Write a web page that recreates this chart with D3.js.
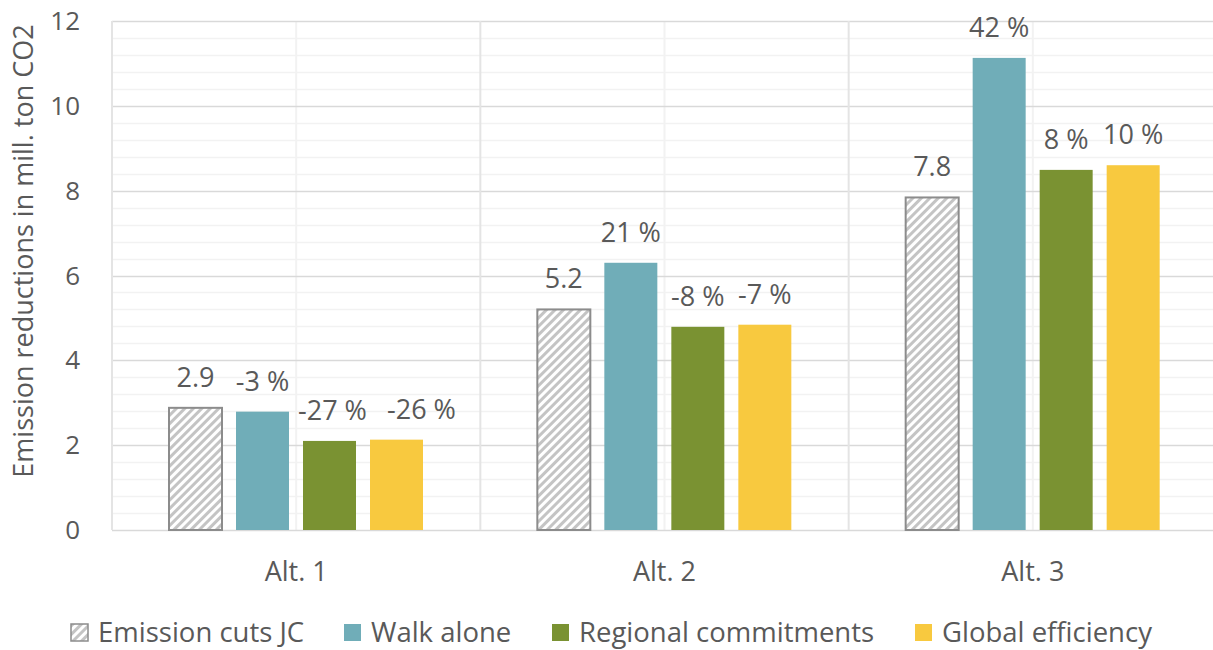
<!DOCTYPE html>
<html>
<head>
<meta charset="utf-8">
<script src="https://cdn.jsdelivr.net/npm/d3@7"></script>
<style>
  body { margin: 0; background: #fff; }
  text { font-family: "Open Sans", Lato, sans-serif; fill: #595959; }
</style>
</head>
<body>
<script>
// chart data
var categories = ["Alt. 1", "Alt. 2", "Alt. 3"];
var seriesNames = ["Emission cuts JC", "Walk alone", "Regional commitments", "Global efficiency"];
var seriesColors = ["url(#hatch)", "#70adb8", "#7a9232", "#f8c93f"];
var emissionCuts = [2.88, 5.2, 7.84];
var walkAlone = [2.79, 6.3, 11.13];
var regional = [2.1, 4.79, 8.49];
var globalEff = [2.13, 4.84, 8.6];
var labelsEmission = ["2.9", "5.2", "7.8"];
var labelsWalk = ["-3 %", "21 %", "42 %"];
var labelsRegional = ["-27 %", "-8 %", "8 %"];
var labelsGlobal = ["-26 %", "-7 %", "10 %"];
var yTicks = [0, 2, 4, 6, 8, 10, 12];

var allValues = [emissionCuts, walkAlone, regional, globalEff];
var allLabels = [labelsEmission, labelsWalk, labelsRegional, labelsGlobal];

var W = 1213, H = 650;
var margin = { top: 21, left: 112 };
var plotW = 1105, plotH = 509;

var svg = d3.select("body").append("svg")
    .attr("width", W)
    .attr("height", H);

var defs = svg.append("defs");
var pat = defs.append("pattern")
    .attr("id", "hatch")
    .attr("patternUnits", "userSpaceOnUse")
    .attr("width", 6)
    .attr("height", 6)
    .attr("patternTransform", "rotate(45)");
pat.append("rect").attr("width", 6).attr("height", 6).attr("fill", "#fff");
pat.append("rect").attr("width", 3).attr("height", 6).attr("fill", "#c4c4c4");

var g = svg.append("g")
    .attr("transform", "translate(" + margin.left + "," + margin.top + ")");

var x = d3.scaleBand().domain(categories).range([0, plotW]).padding(0);
var xs = d3.scaleBand().domain(d3.range(4))
    .range([57, 311]).paddingInner(0.209).paddingOuter(0);
var y = d3.scaleLinear().domain([0, 12]).range([plotH, 0]);

// minor horizontal gridlines
g.selectAll(".minor-h")
    .data(d3.range(0, 12.01, 0.4).filter(v => Math.abs(v / 2 - Math.round(v / 2)) > 0.01))
    .enter().append("line")
    .attr("x1", 0).attr("x2", plotW)
    .attr("y1", d => Math.round(y(d)) + 0.5)
    .attr("y2", d => Math.round(y(d)) + 0.5)
    .style("stroke", "#f2f2f2")
    .style("stroke-width", 1.5);

// vertical minor gridlines (category centres)
g.selectAll(".minor-v")
    .data(categories)
    .enter().append("line")
    .attr("x1", d => x(d) + x.bandwidth() / 2)
    .attr("x2", d => x(d) + x.bandwidth() / 2)
    .attr("y1", 0).attr("y2", plotH)
    .style("stroke", "#f2f2f2")
    .style("stroke-width", 2);

// major horizontal gridlines
g.selectAll(".major-h")
    .data(yTicks)
    .enter().append("line")
    .attr("x1", 0).attr("x2", plotW)
    .attr("y1", d => Math.round(y(d)) + 0.5)
    .attr("y2", d => Math.round(y(d)) + 0.5)
    .style("stroke", "#d9d9d9")
    .style("stroke-width", 1.5);

// vertical major gridlines (category borders)
g.selectAll(".major-v")
    .data(categories.concat(["end"]))
    .enter().append("line")
    .attr("x1", (d, i) => i < 3 ? x(d) : plotW)
    .attr("x2", (d, i) => i < 3 ? x(d) : plotW)
    .attr("y1", 0).attr("y2", plotH)
    .style("stroke", "#e4e4e4")
    .style("stroke-width", 2);

// bars
allValues.forEach(function(vals, s) {
    g.selectAll(".bar-" + s)
        .data(vals)
        .enter().append("rect")
        .attr("x", (d, i) => x(categories[i]) + xs(s))
        .attr("y", d => y(d))
        .attr("width", xs.bandwidth())
        .attr("height", d => y(0) - y(d))
        .attr("fill", seriesColors[s])
        .attr("stroke", s === 0 ? "#8c8c8c" : "none")
        .attr("stroke-width", 2);

    g.selectAll(".lbl-" + s)
        .data(vals)
        .enter().append("text")
        .attr("x", (d, i) => {
            var cx = x(categories[i]) + xs(s) + xs.bandwidth() / 2;
            // excel nudged the crowded Alt. 1 labels apart
            if (i === 0 && s === 3) cx += 25;
            if (i === 0 && s === 2) cx += 3;
            return cx;
        })
        .attr("y", d => y(d) - 21)
        .attr("text-anchor", "middle")
        .style("font-size", "27px")
        .text((d, i) => allLabels[s][i]);
});

// y tick labels
g.selectAll(".ytick")
    .data(yTicks)
    .enter().append("text")
    .attr("x", -32)
    .attr("y", d => y(d))
    .attr("dy", "0.35em")
    .attr("text-anchor", "end")
    .style("font-size", "26px")
    .text(d => d);

// category labels
g.selectAll(".xtick")
    .data(categories)
    .enter().append("text")
    .attr("x", d => x(d) + x.bandwidth() / 2)
    .attr("y", plotH + 51)
    .attr("text-anchor", "middle")
    .style("font-size", "27px")
    .text(d => d);

// y axis title
svg.append("text")
    .attr("transform", "translate(33,251) rotate(-90)")
    .attr("text-anchor", "middle")
    .style("font-size", "27px")
    .text("Emission reductions in mill. ton CO2");

// legend
var legendX = [71, 344, 552, 915];
var legend = svg.selectAll(".legend")
    .data(seriesNames)
    .enter().append("g")
    .attr("transform", (d, i) => "translate(" + legendX[i] + ",624)");

legend.append("rect")
    .attr("width", 17).attr("height", 17)
    .attr("fill", (d, i) => seriesColors[i])
    .attr("stroke", (d, i) => i === 0 ? "#8c8c8c" : "none")
    .attr("stroke-width", 1.5);

legend.append("text")
    .attr("x", 27)
    .attr("y", 8)
    .attr("dy", "0.35em")
    .style("font-size", "27.5px")
    .text(d => d);
</script>
</body>
</html>
